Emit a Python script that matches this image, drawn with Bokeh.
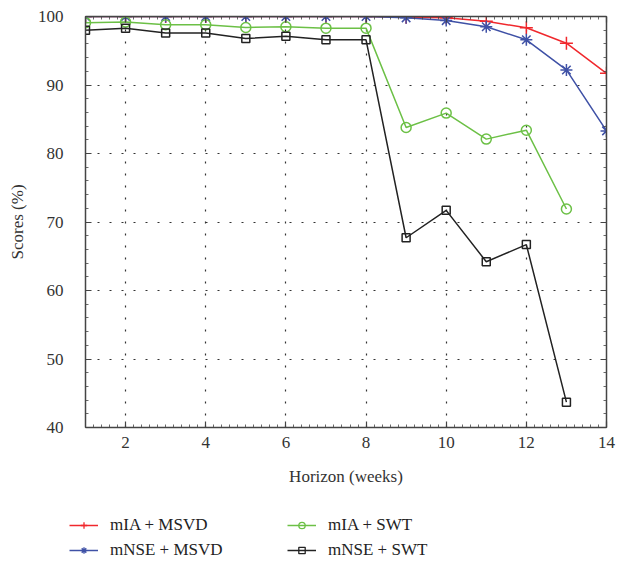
from bokeh.plotting import figure
from bokeh.layouts import column
from bokeh.models import Range1d, LinearAxis, FixedTicker, Legend, LegendItem
from bokeh.embed import file_html
from bokeh.resources import INLINE

horizon = [1, 2, 3, 4, 5, 6, 7, 8, 9, 10, 11, 12, 13, 14]
mia_msvd = [100, 100, 100, 100, 100, 100, 100, 100, 99.9, 99.8, 99.3, 98.35, 96.1, 91.7]
mnse_msvd = [100, 100, 100, 100, 100, 100, 100, 100, 99.8, 99.4, 98.5, 96.6, 92.2, 83.3]
horizon_swt = [1, 2, 3, 4, 5, 6, 7, 8, 9, 10, 11, 12, 13]
mia_swt = [99.1, 99.2, 98.8, 98.8, 98.4, 98.5, 98.3, 98.3, 83.8, 85.9, 82.1, 83.4, 71.9]
mnse_swt = [98.0, 98.3, 97.6, 97.6, 96.8, 97.1, 96.6, 96.6, 67.7, 71.7, 64.2, 66.7, 43.7]
x_ticks = [2, 4, 6, 8, 10, 12, 14]
y_ticks = [40, 50, 60, 70, 80, 90, 100]
labels = ["mIA + MSVD", "mNSE + MSVD", "mIA + SWT", "mNSE + SWT"]

FONT = "Liberation Serif"
RED = "#f0282d"
BLUE = "#3f51a6"
GREEN = "#6cc046"
BLACK = "#222222"
AX = "#444444"

styles = [
    dict(color=RED, marker="cross", size=13, fill=None),
    dict(color=BLUE, marker="asterisk", size=12, fill=None),
    dict(color=GREEN, marker="circle", size=10, fill=None),
    dict(color=BLACK, marker="square", size=8, fill=None),
]

p = figure(width=632, height=500, output_backend="svg", toolbar_location=None,
           x_range=Range1d(1, 14), y_range=Range1d(40, 100),
           min_border_left=85, min_border_right=26, min_border_top=16,
           min_border_bottom=73)
p.outline_line_color = None
p.background_fill_color = "white"
p.frame_align = False

bottom = p.below[0]
left = p.left[0]
bottom.axis_label = "Horizon (weeks)"
left.axis_label = "Scores (%)"

x_minor = [1 + 0.2 * i for i in range(66)]
y_minor = [40 + 2 * i for i in range(31)]

bottom.ticker = FixedTicker(ticks=x_ticks, minor_ticks=x_minor)
left.ticker = FixedTicker(ticks=y_ticks, minor_ticks=y_minor)

top = LinearAxis(ticker=FixedTicker(ticks=x_ticks, minor_ticks=x_minor))
right = LinearAxis(ticker=FixedTicker(ticks=y_ticks, minor_ticks=y_minor))
p.add_layout(top, "above")
p.add_layout(right, "right")

for ax in [bottom, left, top, right]:
    ax.axis_line_color = AX
    ax.axis_line_width = 1.5
    ax.major_tick_line_color = AX
    ax.minor_tick_line_color = AX
    ax.major_tick_out = 0
    ax.major_tick_in = 6
    ax.minor_tick_out = 0
    ax.minor_tick_in = 3
    ax.major_tick_line_width = 1.2
    ax.minor_tick_line_width = 0.8
    ax.major_label_text_font = FONT
    ax.major_label_text_font_size = "17px"
    ax.major_label_text_color = "#333333"
    ax.axis_label_text_font = FONT
    ax.axis_label_text_font_size = "17px"
    ax.axis_label_text_font_style = "normal"
    ax.axis_label_text_color = "#333333"

for ax in [top, right]:
    ax.major_label_text_font_size = "0px"
    ax.major_label_standoff = 0

bottom.major_label_standoff = 9
bottom.axis_label_standoff = 16
left.major_label_standoff = 22
left.axis_label_standoff = 8

p.xgrid.ticker = FixedTicker(ticks=x_ticks)
p.ygrid.ticker = FixedTicker(ticks=y_ticks)
for g in [p.xgrid[0], p.ygrid[0]]:
    g.grid_line_color = "#333333"
    g.grid_line_dash = "2 10"
    g.grid_line_width = 1.2

series = [(horizon, mia_msvd), (horizon, mnse_msvd), (horizon_swt, mia_swt), (horizon_swt, mnse_swt)]
for (xs, ys), st in zip(series, styles):
    p.line(xs, ys, line_color=st["color"], line_width=1.5)
    p.scatter(xs, ys, marker=st["marker"], size=st["size"], line_color=st["color"],
              fill_color=st["fill"], line_width=1.5)

# legend strip below the chart (same series, ranges chosen so nothing shows)
q = figure(width=632, height=63, output_backend="svg", toolbar_location=None,
           x_range=Range1d(-10, -5), y_range=Range1d(-10, -5),
           min_border_left=0, min_border_right=0, min_border_top=0, min_border_bottom=0,
           x_axis_location=None, y_axis_location=None)
q.outline_line_color = None
q.grid.visible = False
q.frame_align = False

items = []
for lab, (xs, ys), st in zip(labels, series, styles):
    rl = q.line(xs, ys, line_color=st["color"], line_width=1.5)
    rm = q.scatter(xs, ys, marker=st["marker"], size=st["size"] * 0.75, line_color=st["color"],
                   fill_color=st["fill"], line_width=1.3)
    items.append(LegendItem(label=lab, renderers=[rl, rm]))

def make_legend(its, loc):
    lg = Legend(items=its, location=loc, orientation="vertical")
    lg.border_line_color = None
    lg.background_fill_alpha = 0
    lg.padding = 0
    lg.margin = 0
    lg.spacing = 5
    lg.glyph_width = 29
    lg.glyph_height = 16
    lg.label_height = 16
    lg.label_standoff = 12
    lg.label_text_font = FONT
    lg.label_text_font_size = "17px"
    lg.label_text_color = "#222222"
    return lg

q.add_layout(make_legend(items[:2], (69, 3)), "center")
q.add_layout(make_legend(items[2:], (287, 3)), "center")

layout = column(p, q, spacing=0)
open("out.html", "w").write(file_html(layout, INLINE))
